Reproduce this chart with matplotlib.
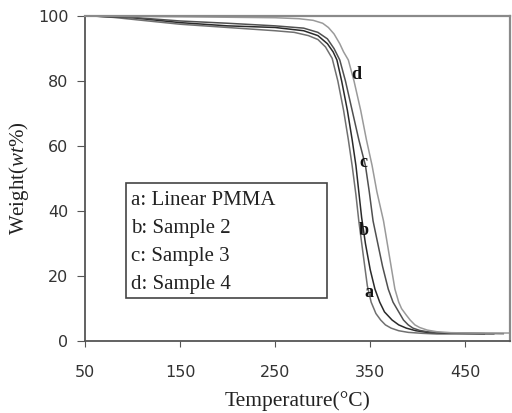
import matplotlib
matplotlib.use("Agg")
import matplotlib.pyplot as plt
from matplotlib.patches import Rectangle

# =========================
# Data
# =========================

temp_a = [60, 80, 100, 150, 200, 250, 270, 285, 295, 303, 310, 316, 322, 327, 331, 335, 338, 342,
          347, 351, 356, 361, 366, 372, 380, 390, 405, 420, 480]
weight_a = [100, 99.6, 99, 97.5, 96.5, 95.5, 95, 94, 92.8, 90.5, 87, 80, 71, 62, 54, 45, 37, 28,
            17, 12, 8.5, 6.5, 5, 4, 3.2, 2.7, 2.4, 2.2, 2.2]

temp_b = [60, 100, 150, 200, 250, 280, 295, 305, 311, 315, 320, 326, 331, 335, 338, 341, 345, 350,
          355, 360, 365, 373, 380, 388, 398, 410, 425, 470]
weight_b = [100, 99.5, 98, 97, 96.5, 95.5, 94, 91.5, 89, 86.5, 80, 71, 62, 54, 46, 38, 30, 22,
            16, 12, 9, 6.5, 5, 4, 3.2, 2.7, 2.5, 2.3]

temp_c = [60, 100, 150, 200, 250, 280, 295, 305, 312, 318, 324, 331, 338, 345, 349, 353, 358, 363,
          369, 374, 378, 385, 390, 395, 402, 412, 430, 490]
weight_c = [100, 99.6, 98.5, 97.8, 97, 96.3, 95, 93, 90, 86.5, 80, 71, 62, 54, 46, 37, 30, 23,
            16, 12, 10, 6.5, 5, 4, 3.3, 2.8, 2.5, 2.3]

temp_d = [60, 150, 250, 275, 290, 300, 306, 312, 318, 322, 327, 333, 340, 346, 352, 357, 364, 368,
          372, 376, 380, 383, 388, 392, 397, 402, 410, 420, 435, 460, 500]
weight_d = [100, 99.8, 99.5, 99.2, 98.7, 97.8, 96.5, 94.5, 91.5, 89, 86.5, 80, 71, 62, 54, 46, 37, 30,
            23, 16, 12, 10, 8, 6.5, 5, 4.2, 3.4, 2.9, 2.6, 2.5, 2.5]

curve_tags = ["a", "b", "c", "d"]
tag_temp = [349, 343, 343, 335]
tag_weight = [15, 34, 55, 82]

legend_lines = ["a: Linear PMMA", "b: Sample 2", "c: Sample 3", "d: Sample 4"]

x_ticks = [50, 150, 250, 350, 450]
y_ticks = [0, 20, 40, 60, 80, 100]

# =========================
# Plot
# =========================

plt.rcParams["mathtext.fontset"] = "custom"
plt.rcParams["mathtext.rm"] = "Liberation Serif"
plt.rcParams["mathtext.it"] = "Liberation Serif:italic"

fig = plt.figure(figsize=(5.12, 4.13), dpi=100)
ax = fig.add_axes([0.166, 0.174, 0.83, 0.787])

serif = "Liberation Serif"

ax.plot(temp_a, weight_a, color="#707070", lw=1.1)
ax.plot(temp_b, weight_b, color="#2a2a2a", lw=1.1)
ax.plot(temp_c, weight_c, color="#505050", lw=1.1)
ax.plot(temp_d, weight_d, color="#9a9a9a", lw=1.1)

for tag, tx, ty in zip(curve_tags, tag_temp, tag_weight):
    ax.text(tx, ty, tag, family=serif, fontsize=13, weight="bold",
            ha="center", va="center", color="#111111")

# legend box drawn by hand (the original has no line handles)
box = Rectangle((0.096, 0.132), 0.473, 0.354, transform=ax.transAxes,
                fill=True, facecolor="white", edgecolor="#444444", lw=1.2, zorder=3)
ax.add_patch(box)
for i, line in enumerate(legend_lines):
    ax.text(0.108, 0.433 - i * 0.086, line, transform=ax.transAxes,
            family=serif, fontsize=15, ha="left", va="center",
            color="#222222", zorder=4)

ax.set_xlim(50, 497)
ax.set_ylim(0, 100)
ax.set_xticks(x_ticks)
ax.set_yticks(y_ticks)

ax.tick_params(axis="both", colors="#555555", labelcolor="#333333",
               labelsize=11.5, direction="out")
ax.tick_params(axis="x", length=4, pad=13)
ax.tick_params(axis="y", length=6, pad=6)

for side in ["left", "bottom"]:
    ax.spines[side].set_color("#555555")
    ax.spines[side].set_linewidth(1.3)
for side in ["top", "right"]:
    ax.spines[side].set_color("#8a8a8a")
    ax.spines[side].set_linewidth(1.6)

ax.set_xlabel("Temperature(°C)", family=serif, fontsize=15.5,
              color="#222222", labelpad=8)
ax.set_ylabel("Weight($\\mathit{wt}$%)", family=serif, fontsize=15,
              color="#222222", labelpad=5)

fig.savefig("out.png", dpi=100)
